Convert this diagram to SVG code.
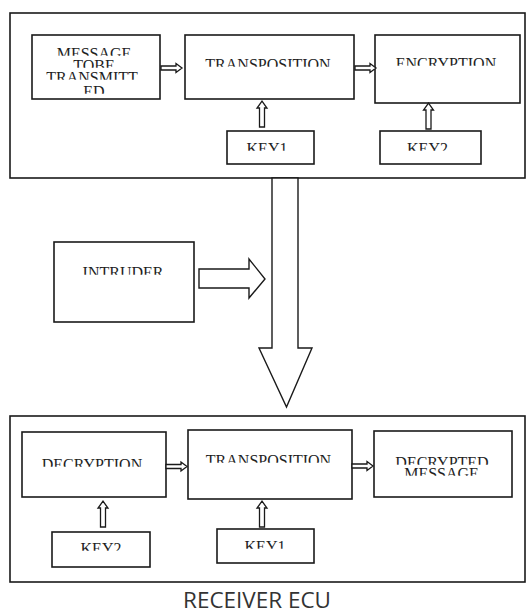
<svg xmlns="http://www.w3.org/2000/svg" xmlns:xlink="http://www.w3.org/1999/xlink" width="526" height="613" viewBox="0 0 526 613">
<style>
.outer{fill:none;stroke:#1a1a1a;stroke-width:1.6}
.box{fill:#fff;stroke:#1a1a1a;stroke-width:1.6}
.arr{fill:#fff;stroke:#1a1a1a;stroke-width:1.3;stroke-linejoin:miter}
.big{fill:#fff;stroke:#1a1a1a;stroke-width:1.4;stroke-linejoin:miter}
.t{font-family:"Liberation Serif","Times New Roman",serif;font-size:16px;fill:#1e1e1e;text-anchor:middle;clip-path:url(#cut)}
.cap{font-family:"Open Sans","DejaVu Sans",sans-serif;font-size:21px;fill:#333;text-anchor:middle}
</style>
<defs>
<clipPath id="cut" clipPathUnits="objectBoundingBox"><rect x="-0.1" y="0" width="1.2" height="0.66"/></clipPath>
<polygon id="ra" points="0,-2 15,-2 15,-4.5 21,0 15,4.5 15,2 0,2"/>
<polygon id="ua" points="-2.5,0 -2.5,-19 -5,-19 0,-26 5,-19 2.5,-19 2.5,0"/>
</defs>

<g id="sender-ecu"><rect class="outer" x="10" y="13" width="515" height="165"/></g>
<g id="receiver-ecu"><rect class="outer" x="10" y="416" width="515" height="166"/></g>

<g id="msg"><rect class="box" x="32" y="35" width="128" height="64"/>
<text class="t" x="94" y="58.5">MESSAGE</text>
<text class="t" x="94" y="70.5">TOBE</text>
<text class="t" x="92" y="82.5">TRANSMITT</text>
<text class="t" x="94" y="96.5">ED</text></g>

<g id="transposition1"><rect class="box" x="185" y="35" width="169" height="64"/>
<text class="t" x="268" y="69.5">TRANSPOSITION</text></g>

<g id="encryption"><rect class="box" x="375" y="35" width="145" height="68"/>
<text class="t" x="446" y="68.5">ENCRYPTION</text></g>

<g id="key1-top"><rect class="box" x="227" y="131" width="87" height="33"/>
<text class="t" x="267" y="153.5">KEY1</text></g>

<g id="key2-top"><rect class="box" x="380" y="131" width="101" height="33"/>
<text class="t" x="427.5" y="153.5">KEY2</text></g>

<g id="intruder"><rect class="box" x="54" y="242" width="140" height="80"/>
<text class="t" x="123" y="277.5">INTRUDER</text></g>

<g id="decryption"><rect class="box" x="22" y="432" width="144" height="65"/>
<text class="t" x="92" y="469.5">DECRYPTION</text></g>

<g id="transposition2"><rect class="box" x="188" y="430" width="164" height="69"/>
<text class="t" x="268.5" y="465.5">TRANSPOSITION</text></g>

<g id="decrypted"><rect class="box" x="374" y="431" width="138" height="66"/>
<text class="t" x="442" y="467.5">DECRYPTED</text>
<text class="t" x="441.5" y="478.5">MESSAGE</text></g>

<g id="key2-bottom"><rect class="box" x="52" y="532" width="98" height="35"/>
<text class="t" x="101" y="553.5">KEY2</text></g>

<g id="key1-bottom"><rect class="box" x="217" y="529" width="97" height="34"/>
<text class="t" x="265" y="551.5">KEY1</text></g>

<g id="connectors">
<use class="arr" xlink:href="#ra" x="161" y="68"/>
<use class="arr" xlink:href="#ra" x="355" y="68"/>
<use class="arr" xlink:href="#ra" x="166" y="466.5"/>
<use class="arr" xlink:href="#ra" x="352" y="466"/>
<use class="arr" xlink:href="#ua" x="262" y="127"/>
<use class="arr" xlink:href="#ua" x="428.5" y="129"/>
<use class="arr" xlink:href="#ua" x="103" y="527"/>
<use class="arr" xlink:href="#ua" x="262" y="527"/>
<polygon class="big" points="272,178 298,178 298,348 312,348 286.5,407 259,348 272,348"/>
<polygon class="big" points="199,269 249,269 249,259 265,279 249,298 249,288 199,288"/>
</g>

<text class="cap" x="257" y="608" textLength="148" lengthAdjust="spacingAndGlyphs">RECEIVER ECU</text>
</svg>
